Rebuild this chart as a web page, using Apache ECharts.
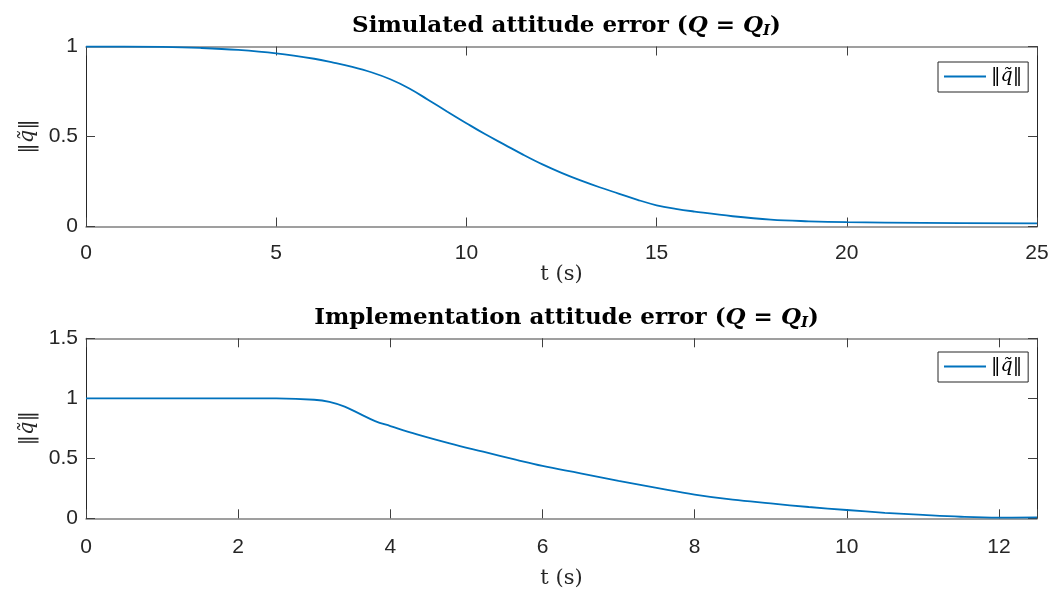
<!DOCTYPE html>
<html>
<head>
<meta charset="utf-8">
<title>Attitude error</title>
<script src="https://cdn.jsdelivr.net/npm/echarts@6/dist/echarts.min.js"></script>
<style>
  html, body { margin: 0; padding: 0; background: #ffffff; }
  #chart { width: 1055px; height: 591px; }
</style>
</head>
<body>
<div id="chart"></div>
<script>
// Simulated run: time (s) and attitude error norm
const simT = [0, 1, 2, 3, 4, 5, 6, 6.5, 7, 7.5, 8, 8.5, 9, 9.5, 10, 10.5, 11, 11.5, 12, 12.5, 13, 13.5, 14, 14.5, 15, 15.5, 16, 17, 18, 19, 20, 22, 25];
const simQ = [1.0, 1.0, 0.998, 0.992, 0.981, 0.962, 0.932, 0.911, 0.887, 0.857, 0.818, 0.767, 0.703, 0.638, 0.574, 0.512, 0.455, 0.398, 0.345, 0.298, 0.256, 0.218, 0.183, 0.148, 0.118, 0.098, 0.083, 0.057, 0.038, 0.029, 0.024, 0.020, 0.017];

// Implementation run: time (s) and attitude error norm
const impT = [0, 1, 2, 2.5, 3, 3.2, 3.4, 3.6, 3.8, 4, 4.35, 4.78, 5.22, 5.66, 6, 6.5, 7, 7.5, 8, 8.5, 9, 9.5, 10, 10.5, 11, 11.5, 12, 12.5];
const impQ = [1.0, 1.0, 1.0, 0.999, 0.988, 0.970, 0.930, 0.870, 0.810, 0.769, 0.700, 0.625, 0.555, 0.486, 0.436, 0.375, 0.312, 0.254, 0.198, 0.155, 0.124, 0.094, 0.069, 0.046, 0.028, 0.013, 0.006, 0.008];

// Axis ranges and tick steps
const simXTicks = { min: 0, max: 25, interval: 5 };
const simYTicks = { min: 0, max: 1, interval: 0.5 };
const impXTicks = { min: 0, max: 12.5, interval: 2 };
const impYTicks = { min: 0, max: 1.5, interval: 0.5 };

const seriesName = '‖q̃‖';
const lineColor = '#0072BD';
const serif = '"DejaVu Serif", "Liberation Serif", serif';
const sans = '"Liberation Sans", Arial, sans-serif';

const titleRich = {
  b: { fontFamily: serif, fontWeight: 'bold', fontSize: 23, color: '#000' },
  m: { fontFamily: serif, fontSize: 23, color: '#000' },
  i: { fontFamily: serif, fontStyle: 'italic', fontSize: 23, color: '#000' },
  s: { fontFamily: serif, fontStyle: 'italic', fontSize: 15, color: '#000', padding: [11, 0, 0, 0] }
};

const nameRich = {
  n: { fontFamily: serif, fontSize: 21, color: '#262626' },
  q: { fontFamily: serif, fontStyle: 'italic', fontSize: 21, color: '#262626' },
  t: { fontFamily: serif, fontSize: 21, color: '#262626' }
};

function pairs(t, v) { return t.map((x, i) => [x, v[i]]); }

function fmtTick(v) {
  return String(+v.toFixed(2));
}

function xAxes(grid, ticks, step, labelMargin, nameGap) {
  const common = {
    gridIndex: grid, type: 'value', min: ticks.min, max: ticks.max, interval: ticks.interval,
    splitLine: { show: false },
    axisLine: { show: true, onZero: false, lineStyle: { color: '#808080', width: 1.5 } },
    axisTick: { show: true, inside: true, length: 9, lineStyle: { color: '#404040', width: 1 } }
  };
  return [
    Object.assign({}, common, {
      position: 'bottom',
      axisLabel: {
        fontFamily: sans, fontSize: 21, color: '#262626', margin: labelMargin,
        formatter: v => (Math.abs(v / step - Math.round(v / step)) < 1e-9 ? fmtTick(v) : '')
      },
      name: '{t|t (s)}', nameLocation: 'middle', nameGap: nameGap,
      nameTextStyle: { rich: nameRich }
    }),
    Object.assign({}, common, { position: 'top', axisLabel: { show: false } })
  ];
}

function yAxes(grid, ticks) {
  const common = {
    gridIndex: grid, type: 'value', min: ticks.min, max: ticks.max, interval: ticks.interval,
    splitLine: { show: false },
    axisLine: { show: true, onZero: false, lineStyle: { color: '#262626', width: 1 } },
    axisTick: { show: true, inside: true, length: 9, lineStyle: { color: '#404040', width: 1 } }
  };
  return [
    Object.assign({}, common, {
      position: 'left',
      axisLabel: { fontFamily: sans, fontSize: 21, color: '#262626', margin: 8, formatter: fmtTick },
      name: '{n|‖}{q|q̃}{n|‖}', nameLocation: 'middle', nameRotate: 90, nameGap: 39,
      nameTextStyle: { rich: nameRich }
    }),
    Object.assign({}, common, { position: 'right', axisLabel: { show: false } })
  ];
}

function legendAt(top) {
  return {
    left: 938, top: top, orient: 'vertical',
    backgroundColor: '#ffffff', borderColor: '#262626', borderWidth: 1, borderRadius: 0,
    padding: [5, 6, 6, 6], itemWidth: 42, itemHeight: 2, itemGap: 0,
    data: [{ name: seriesName, icon: 'rect' }],
    formatter: () => '{n|‖}{q|q̃}{n|‖}',
    textStyle: { rich: { n: { fontFamily: serif, fontSize: 19, color: '#000' }, q: { fontFamily: serif, fontStyle: 'italic', fontSize: 19, color: '#000' } } },
    selectedMode: false
  };
}

const chart = echarts.init(document.getElementById('chart'), null, { renderer: 'canvas' });

chart.setOption({
  backgroundColor: '#ffffff',
  animation: false,
  title: [
    { text: '{b|Simulated attitude error }{m|(}{i|Q}{m| = }{i|Q}{s|I}{m|)}', left: 561.5, textAlign: 'center', top: 8, textStyle: { rich: titleRich } },
    { text: '{b|Implementation attitude error }{m|(}{i|Q}{m| = }{i|Q}{s|I}{m|)}', left: 561.5, textAlign: 'center', top: 300, textStyle: { rich: titleRich } }
  ],
  legend: [legendAt(62), legendAt(352)],
  grid: [
    { left: 86, width: 951, top: 46.5, height: 180 },
    { left: 86, width: 951, top: 338.3, height: 180 }
  ],
  xAxis: xAxes(0, simXTicks, 5, 16, 37).concat(xAxes(1, impXTicks, 2, 18, 50)),
  yAxis: yAxes(0, simYTicks).concat(yAxes(1, impYTicks)),
  series: [
    {
      name: seriesName, type: 'line', xAxisIndex: 0, yAxisIndex: 0,
      data: pairs(simT, simQ), showSymbol: false, symbol: 'none',
      smooth: 0.4,
      lineStyle: { color: lineColor, width: 1.8 }, itemStyle: { color: lineColor }
    },
    {
      name: seriesName, type: 'line', xAxisIndex: 2, yAxisIndex: 2,
      data: pairs(impT, impQ), showSymbol: false, symbol: 'none',
      smooth: 0.4,
      lineStyle: { color: lineColor, width: 1.8 }, itemStyle: { color: lineColor }
    }
  ]
});
</script>
</body>
</html>
